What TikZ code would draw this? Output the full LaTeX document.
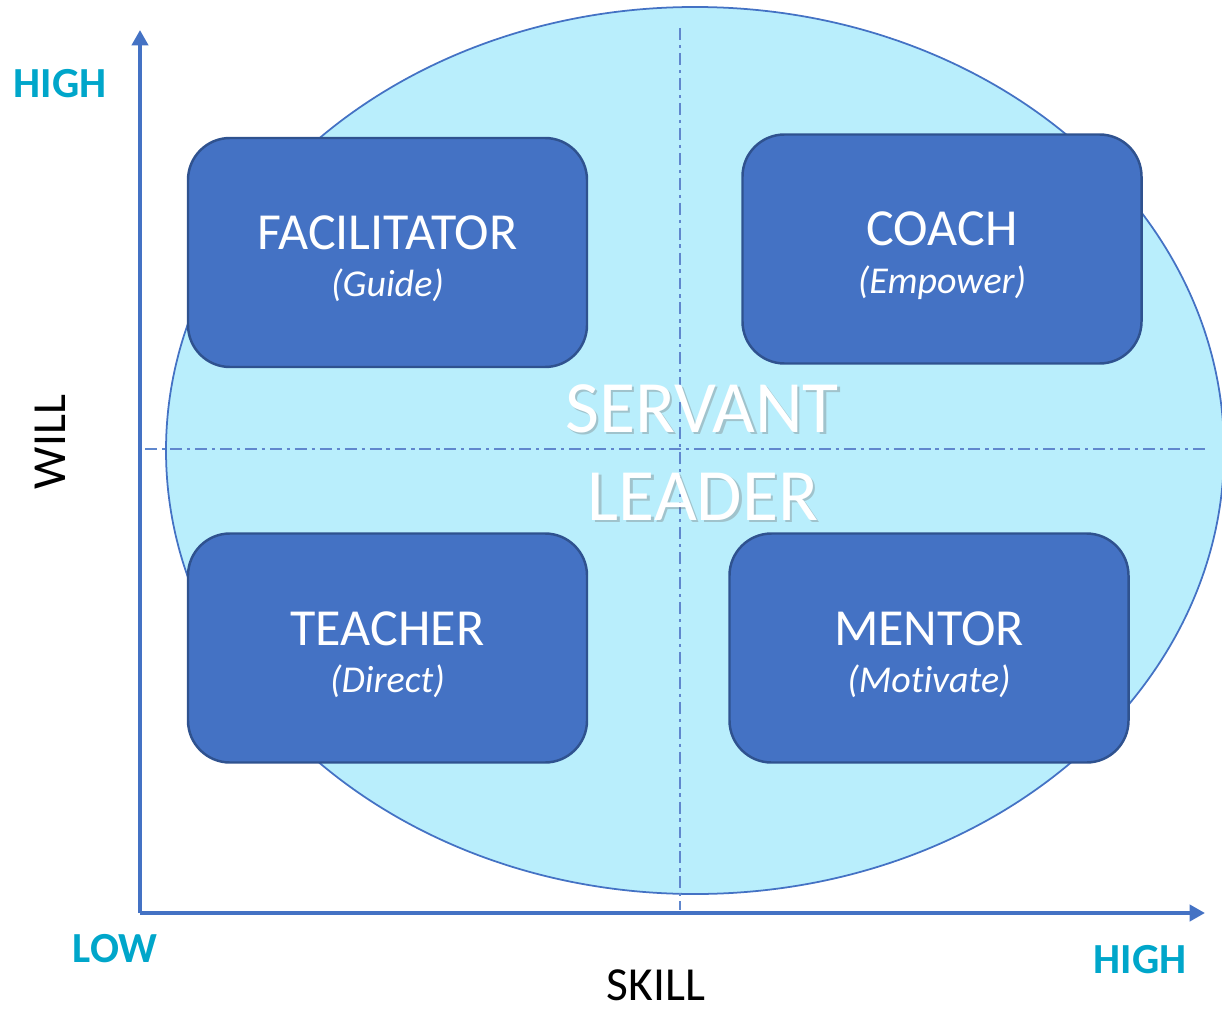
\documentclass[tikz,border=0pt]{standalone}
\usepackage{fontspec}
\setmainfont{Carlito}[Ligatures=NoCommon]
\usetikzlibrary{arrows.meta}

\definecolor{boxblue}{RGB}{68,114,196}
\definecolor{boxedge}{RGB}{47,82,143}
\definecolor{ovalfill}{RGB}{185,238,252}
\definecolor{lowhigh}{RGB}{0,166,202}

\tikzset{
  rolebox/.style={rectangle, rounded corners=0.42cm, fill=boxblue, draw=boxedge,
    line width=0.7pt, minimum width=3.99cm, minimum height=2.29cm, inner sep=0pt},
  roletitle/.style={anchor=base, text=white, font=\fontsize{14.8}{17}\selectfont},
  rolesub/.style={anchor=base, text=white, font=\fontsize{10.8}{12}\selectfont\itshape},
  axisline/.style={boxblue, line width=1.1pt, -{Triangle[width=4.6pt,length=4.4pt]}},
  midline/.style={boxblue!85, line width=0.45pt,
    dash pattern=on 3.4pt off 1.4pt on 0.9pt off 1.4pt},
  endlabel/.style={anchor=base, text=lowhigh, font=\fontsize{12.2}{14}\selectfont\bfseries},
  axislabel/.style={anchor=base, text=black, font=\fontsize{13.5}{16}\selectfont},
  bigword/.style={anchor=base, text=white, font=\fontsize{21}{24}\selectfont},
  bigshadow/.style={anchor=base, text=black!55, opacity=0.35, font=\fontsize{21}{24}\selectfont}
}

\begin{document}
\begin{tikzpicture}
    \useasboundingbox (0,0) rectangle (12.22,-10.08);
    \begin{scope}% oval behind everything, cut at the right edge
      \clip (0,0) rectangle (12.22,-10.08);
      \filldraw[fill=ovalfill, draw=boxblue, line width=0.5pt] (6.95,-4.505) ellipse [x radius=5.29, y radius=4.435];
    \end{scope}
    \coordinate (vtop) at (6.80,-0.28);
    \coordinate (vbot) at (6.80,-9.10);
    \coordinate (hleft) at (1.45,-4.49);
    \coordinate (hright) at (12.08,-4.49);
    \draw[midline] (vtop) -- (vbot);% split skill
    \draw[midline] (hleft) -- (hright);% split will
    \coordinate (origin) at (1.40,-9.13);
    \coordinate (willtop) at (1.40,-0.30);
    \coordinate (skillend) at (12.05,-9.13);
    \draw[axisline] (origin) -- (willtop);% Draw will axis
    \draw[axisline] (origin) -- (skillend);% Draw skill axis
    \foreach \nm/\x/\y/\ttl/\sub in {facil/3.875/-2.525/FACILITATOR/Guide,
        coach/9.42/-2.49/COACH/Empower,
        teacher/3.875/-6.48/TEACHER/Direct,
        mentor/9.29/-6.48/MENTOR/Motivate}{% one box per quadrant
      \node[rolebox] (\nm) at (\x,\y) {};
      \node[roletitle] (\nm-t) at ([yshift=0.03cm]\nm.center) {\ttl};
      \node[rolesub] (\nm-s) at ([yshift=-0.445cm]\nm.center) {(\sub)};}
    \node[bigshadow] (servsh) at (7.045,-4.345) {SERVANT};
    \node[bigshadow] (leadsh) at (7.055,-5.225) {LEADER};
    \node[bigword] (serv) at (7.02,-4.32) {SERVANT};
    \node[bigword] (lead) at (7.03,-5.20) {LEADER};
    \node[endlabel] (willhigh) at (0.60,-0.98) {HIGH};
    \node[endlabel] (low) at (1.15,-9.62) {LOW};
    \node[endlabel] (skillhigh) at (11.40,-9.73) {HIGH};
    \node[axislabel, rotate=90] (will) at (0.65,-4.42) {WILL};
    \node[axislabel] (skill) at (6.56,-10.00) {SKILL};
  \end{tikzpicture}
\end{document}
